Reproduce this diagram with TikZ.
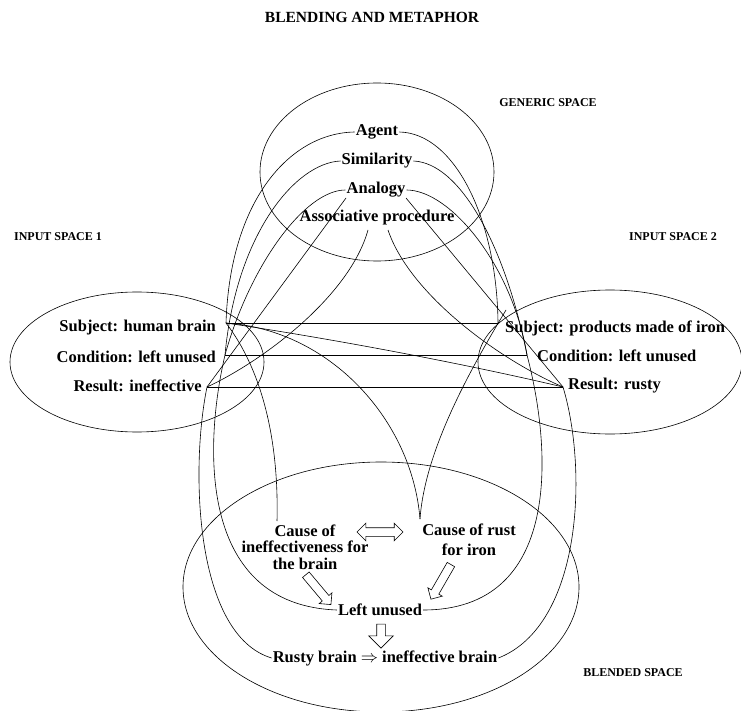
\documentclass[tikz,border=0pt]{standalone}
\usepackage{fontspec}
\setmainfont{Liberation Serif}
\usetikzlibrary{shapes.arrows}
\begin{document}
\begin{tikzpicture}[x=1pt,y=-1pt,
  txt/.style={font=\fontsize{16.5}{16.5}\selectfont\bfseries, inner sep=1pt},
  lbl/.style={font=\fontsize{12}{14}\selectfont\bfseries, inner sep=0pt},
  ttl/.style={font=\fontsize{15.5}{17}\selectfont\bfseries, inner sep=0pt},
  ln/.style={line width=0.6pt},
  barrow/.style={single arrow, draw, line width=0.6pt, single arrow head extend=4pt,
     single arrow head indent=0pt, inner sep=4pt},
]
\useasboundingbox (0,0) rectangle (741,711);

% labels
\node[ttl] (title) at (372,17) {BLENDING AND METAPHOR};
\node[lbl] (gsl) at (548,103) {GENERIC SPACE};
\node[lbl] (is1) at (58,237) {INPUT SPACE 1};
\node[lbl] (is2) at (673,237) {INPUT SPACE 2};
\node[lbl] (bsl) at (633,673) {BLENDED SPACE};

% spaces
\draw[ln] (377,172) ellipse [x radius=117pt, y radius=89pt];
\draw[ln] (137,362) ellipse [x radius=127pt, y radius=70pt];
\draw[ln] (610,362) ellipse [x radius=132pt, y radius=72pt];
\draw[ln] (381,587) ellipse [x radius=198pt, y radius=125pt];

% generic space
\node[txt] (agent) at (377,132) {Agent};
\node[txt] (sim) at (377,161) {Similarity};
\node[txt] (ana) at (376,190) {Analogy};
\node[txt] (asp) at (377,218) {Associative procedure};

% input spaces
\node[txt,anchor=east] (s1) at (217,328) {Subject: human brain};
\node[txt,anchor=east] (c1) at (217,357) {Condition: left unused};
\node[txt,anchor=east] (r1) at (203,386) {Result: ineffective};
\node[txt,anchor=west] (s2) at (504,328) {Subject: products made of iron};
\node[txt,anchor=west] (c2) at (536,356) {Condition: left unused};
\node[txt,anchor=west] (r2) at (567,386) {Result: rusty};

\coordinate (S1) at (226,323);
\coordinate (C1) at (225,355);
\coordinate (R1) at (207,387);
\coordinate (S2) at (498,323);
\coordinate (C2) at (527,355);
\coordinate (R2) at (563,387);
\coordinate (S2b) at (506,310);
\coordinate (AL) at (368,230);
\coordinate (AR) at (388,230);
\coordinate (AnL) at (346,198);
\coordinate (AnR) at (406,198);

% blended space
\node[txt, align=center] (cib) at (305,547) {Cause of\\ineffectiveness for\\the brain};
\node[txt, align=center, font=\fontsize{16.5}{20}\selectfont\bfseries] (cri) at (469,540) {Cause of rust\\for iron};
\node[txt] (lu) at (380,610) {Left unused};
\node[txt] (rb) at (385,658) {Rusty brain $\Rightarrow$ ineffective brain};
\coordinate (cusp) at (420,519);
\coordinate (cit) at (277,521);

\node[barrow, minimum height=39pt, rotate=-50] (a1) at (317,588) {};
\node[barrow, minimum height=40pt, rotate=-120] (a2) at (442,580) {};
\node[barrow, minimum height=24pt, rotate=-90, single arrow head extend=8pt] (a3) at (381,634) {};
\node[double arrow, draw, line width=0.6pt, inner sep=4pt, double arrow head extend=4.5pt,
      double arrow head indent=0pt, minimum height=46pt] (a4) at (380,532) {};

% generic -> inputs
\draw[ln] (agent.west) .. controls (290,133) and (230,200) .. (S1);
\draw[ln] (agent.east) .. controls (455,133) and (497,220) .. (S2);
\draw[ln] (sim.west) .. controls (295,163) and (236,235) .. (C1);
\draw[ln] (sim.east) .. controls (460,163) and (505,245) .. (C2);
\draw[ln] (ana.west) .. controls (305,190) and (250,265) .. (C1);
\draw[ln] (ana.east) .. controls (450,190) and (512,265) .. (C2);
\draw[ln] (AnL) -- (R1);
\draw[ln] (AnR) -- (R2);
\draw[ln] (AL) .. controls (350,295) and (265,360) .. (R1);
\draw[ln] (AR) .. controls (410,295) and (500,360) .. (R2);

% cross-space mappings
\draw[ln] (S1) -- (S2);
\draw[ln] (C1) -- (C2);
\draw[ln] (R1) -- (R2);
\draw[ln] (S1) .. controls (340,340) and (470,365) .. (R2);

% inputs -> blend
\draw[ln] (S1) .. controls (262,370) and (279,440) .. (cit);
\draw[ln] (S1) .. controls (330,330) and (412,420) .. (cusp);
\draw[ln] (cusp) .. controls (425,450) and (470,370) .. (S2b);
\draw[ln] (C1) .. controls (203,450) and (200,605) .. (lu.west);
\draw[ln] (C2) .. controls (552,450) and (562,610) .. (lu.east);
\draw[ln] (R1) .. controls (190,470) and (195,635) .. (rb.west);
\draw[ln] (R2) .. controls (588,470) and (582,625) .. (rb.east);
\end{tikzpicture}
\end{document}
